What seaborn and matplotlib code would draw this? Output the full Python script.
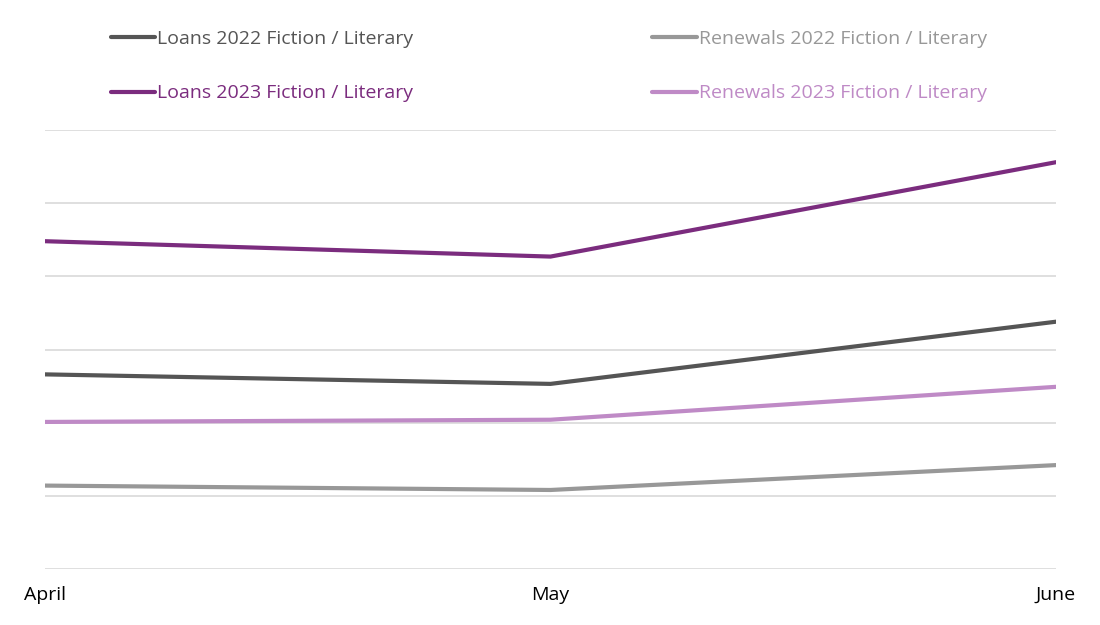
import pandas as pd
import matplotlib.pyplot as plt
import seaborn as sns

# Values (y axis has no labels, gridline units)
months = ["April", "May", "June"]
loans_2022 = [2.66, 2.53, 3.38]
loans_2023 = [4.48, 4.27, 5.56]
renewals_2022 = [1.14, 1.08, 1.42]
renewals_2023 = [2.01, 2.04, 2.49]

series_names = [
    "Loans 2022 Fiction / Literary",
    "Loans 2023 Fiction / Literary",
    "Renewals 2022 Fiction / Literary",
    "Renewals 2023 Fiction / Literary",
]
colors = ["#555555", "#7B2C7E", "#989898", "#BF8AC6"]

df = pd.DataFrame({
    "month": months * 4,
    "value": loans_2022 + loans_2023 + renewals_2022 + renewals_2023,
    "series": [s for s in series_names for _ in months],
})
df["x"] = df["month"].map({m: i for i, m in enumerate(months)})

sns.set_style("white")
plt.rcParams["font.family"] = ["Open Sans", "DejaVu Sans"]

fig = plt.figure(figsize=(11, 6.25), dpi=100)
ax = fig.add_axes([45 / 1100, 1 - 569 / 625, (1056 - 45) / 1100, (569 - 130) / 625])

sns.lineplot(data=df, x="x", y="value", hue="series", hue_order=series_names,
             palette=colors, linewidth=3, ax=ax, legend=True)

ax.set_xlim(0, len(months) - 1)
ax.set_ylim(0, 6)
ax.set_yticks(range(0, 7))
ax.set_yticklabels([])
ax.tick_params(axis="y", length=0)
ax.grid(axis="y", color="#D9D9D9", linewidth=1.2)
ax.set_axisbelow(True)
ax.set_xticks(range(len(months)))
ax.set_xticklabels(months, fontsize=14, color="#000000")
ax.tick_params(axis="x", length=0, pad=12)
ax.set_xlabel("")
ax.set_ylabel("")
for side in ["top", "right", "left", "bottom"]:
    ax.spines[side].set_visible(False)

handles, labels = ax.get_legend_handles_labels()
ax.get_legend().remove()
fig.legend(handles, labels, ncol=2, loc="upper left",
           bbox_to_anchor=(93 / 1100, 1 - 12 / 625), frameon=False,
           fontsize=14, labelcolor="linecolor", handlelength=2.3,
           handletextpad=0.1, labelspacing=1.9, columnspacing=12.3)

fig.savefig("out.png", dpi=100)
